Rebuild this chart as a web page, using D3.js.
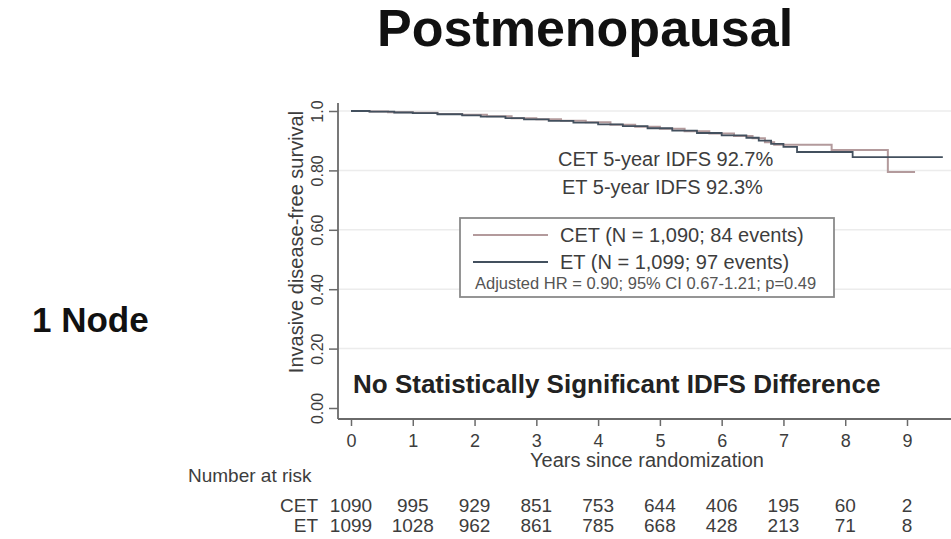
<!DOCTYPE html>
<html>
<head>
<meta charset="utf-8">
<script src="https://cdn.jsdelivr.net/npm/d3@7"></script>
<style>
  body { margin: 0; background: #ffffff; }
  svg { display: block; font-family: "Liberation Sans", Arial, sans-serif; }
</style>
</head>
<body>
<div id="vis"></div>
<script>
// data
const YEARS = [0, 1, 2, 3, 4, 5, 6, 7, 8, 9];
const Y_TICKS = [0, 0.2, 0.4, 0.6, 0.8, 1.0];
const Y_TICK_LABELS = ["0.00", "0.20", "0.40", "0.60", "0.80", "1.0"];

const RISK_CET = [1090, 995, 929, 851, 753, 644, 406, 195, 60, 2];
const RISK_ET = [1099, 1028, 962, 861, 785, 668, 428, 213, 71, 8];

// kaplan-meier step knots (years, survival)
const CET_TIME = [0, 0.3, 0.6, 1.0, 1.4, 1.8, 2.2, 2.6, 3.0, 3.4, 3.8, 4.2, 4.6, 5.0, 5.4, 5.8, 6.2, 6.5, 6.7, 6.85, 7.78, 8.69, 9.13];
const CET_SURV = [1.000, 0.998, 0.996, 0.994, 0.990, 0.987, 0.982, 0.976, 0.972, 0.967, 0.962, 0.954, 0.947, 0.940, 0.932, 0.924, 0.916, 0.908, 0.895, 0.886, 0.869, 0.795, 0.795];
const ET_TIME = [0, 0.3, 0.7, 1.0, 1.4, 1.8, 2.1, 2.5, 2.8, 3.2, 3.6, 4.0, 4.4, 4.8, 5.2, 5.6, 6.0, 6.4, 6.6, 6.8, 7.0, 7.22, 8.12, 9.58];
const ET_SURV = [1.000, 0.998, 0.995, 0.993, 0.989, 0.985, 0.981, 0.976, 0.972, 0.967, 0.961, 0.955, 0.949, 0.942, 0.934, 0.926, 0.918, 0.910, 0.900, 0.889, 0.879, 0.862, 0.845, 0.845];

const LEGEND_LABELS = ["CET (N = 1,090; 84 events)", "ET (N = 1,099; 97 events)"];
const HR_TEXT = "Adjusted HR = 0.90; 95% CI 0.67-1.21; p=0.49";
const IDFS_TEXT = ["CET 5-year IDFS 92.7%", "ET 5-year IDFS 92.3%"];

// frame constants
const FRAME_WIDTH = 951;
const FRAME_HEIGHT = 539;
const PLOT = {left: 338, right: 951, top: 103, bottom: 419};

const CET_COLOR = "#b39a9c";
const ET_COLOR = "#43505e";
const AXIS_COLOR = "#6a6a6a";
const TEXT_COLOR = "#3d3d3d";

const FRAME = d3.select("#vis")
                .append("svg")
                  .attr("width", FRAME_WIDTH)
                  .attr("height", FRAME_HEIGHT);

// scales
const X_SCALE = d3.scaleLinear()
                    .domain([0, 9])
                    .range([351, 907]);
const Y_SCALE = d3.scaleLinear()
                    .domain([0, 1])
                    .range([408, 111]);

// title and row label
FRAME.append("text")
      .attr("x", 377)
      .attr("y", 46)
      .attr("font-size", 52)
      .attr("font-weight", "bold")
      .attr("fill", "#111")
      .text("Postmenopausal");

FRAME.append("text")
      .attr("x", 32)
      .attr("y", 332)
      .attr("font-size", 35)
      .attr("font-weight", "bold")
      .attr("fill", "#111")
      .text("1 Node");

// faint gridlines
FRAME.append("g")
      .selectAll("line")
      .data(Y_TICKS.slice(1))
      .enter()
      .append("line")
        .attr("x1", PLOT.left)
        .attr("x2", PLOT.right)
        .attr("y1", (d) => { return Y_SCALE(d); })
        .attr("y2", (d) => { return Y_SCALE(d); })
        .attr("stroke", "#ececec")
        .attr("stroke-width", 1.5);

// x axis
const X_AXIS = FRAME.append("g")
      .attr("transform", "translate(0," + PLOT.bottom + ")")
      .call(d3.axisBottom(X_SCALE).tickValues(YEARS).tickSize(7).tickPadding(8).tickSizeOuter(0));
X_AXIS.select(".domain").remove();
X_AXIS.append("line")
      .attr("x1", PLOT.left)
      .attr("x2", PLOT.right)
      .attr("stroke", AXIS_COLOR)
      .attr("stroke-width", 1.8);
X_AXIS.selectAll(".tick line").attr("stroke", AXIS_COLOR).attr("stroke-width", 1.5);
X_AXIS.selectAll(".tick text")
      .attr("font-size", 18)
      .attr("fill", TEXT_COLOR);

// y axis
const Y_AXIS = FRAME.append("g")
      .attr("transform", "translate(" + PLOT.left + ",0)")
      .call(d3.axisLeft(Y_SCALE).tickValues(Y_TICKS).tickSize(9)
              .tickFormat((d, i) => { return Y_TICK_LABELS[i]; }));
Y_AXIS.select(".domain").remove();
Y_AXIS.append("line")
      .attr("y1", PLOT.top)
      .attr("y2", PLOT.bottom)
      .attr("stroke", AXIS_COLOR)
      .attr("stroke-width", 1.8);
Y_AXIS.selectAll(".tick line").attr("stroke", AXIS_COLOR).attr("stroke-width", 1.5);
Y_AXIS.selectAll(".tick text")
      .attr("x", 0)
      .attr("dy", 0)
      .attr("transform", "translate(-15,0) rotate(-90)")
      .attr("text-anchor", "middle")
      .attr("font-size", 16)
      .attr("fill", TEXT_COLOR);

// axis titles
FRAME.append("text")
      .attr("transform", "translate(303,242) rotate(-90)")
      .attr("text-anchor", "middle")
      .attr("font-size", 20)
      .attr("fill", TEXT_COLOR)
      .text("Invasive disease-free survival");

FRAME.append("text")
      .attr("x", 647)
      .attr("y", 467)
      .attr("text-anchor", "middle")
      .attr("font-size", 20)
      .attr("fill", TEXT_COLOR)
      .text("Years since randomization");

// survival curves
const STEP = d3.line()
                .x((d) => { return X_SCALE(d[0]); })
                .y((d) => { return Y_SCALE(d[1]); })
                .curve(d3.curveStepAfter);

FRAME.append("path")
      .datum(CET_TIME.map((t, i) => { return [t, CET_SURV[i]]; }))
      .attr("d", STEP)
      .attr("fill", "none")
      .attr("stroke", CET_COLOR)
      .attr("stroke-width", 2);

FRAME.append("path")
      .datum(ET_TIME.map((t, i) => { return [t, ET_SURV[i]]; }))
      .attr("d", STEP)
      .attr("fill", "none")
      .attr("stroke", ET_COLOR)
      .attr("stroke-width", 1.8);

// 5-year annotations
FRAME.append("g")
      .selectAll("text")
      .data(IDFS_TEXT)
      .enter()
      .append("text")
        .attr("x", (d, i) => { return i == 0 ? 558 : 562; })
        .attr("y", (d, i) => { return 166 + i * 28; })
        .attr("font-size", 20)
        .attr("fill", TEXT_COLOR)
        .text((d) => { return d; });

// legend box
const LEGEND = FRAME.append("g");
LEGEND.append("rect")
      .attr("x", 460)
      .attr("y", 218)
      .attr("width", 374)
      .attr("height", 79)
      .attr("fill", "#fff")
      .attr("stroke", "#8a8a8a")
      .attr("stroke-width", 1.8);

LEGEND.selectAll(".key")
      .data([CET_COLOR, ET_COLOR])
      .enter()
      .append("line")
        .attr("class", "key")
        .attr("x1", 473)
        .attr("x2", 548)
        .attr("y1", (d, i) => { return 235 + i * 27; })
        .attr("y2", (d, i) => { return 235 + i * 27; })
        .attr("stroke", (d) => { return d; })
        .attr("stroke-width", 2);

LEGEND.selectAll(".lab")
      .data(LEGEND_LABELS)
      .enter()
      .append("text")
        .attr("class", "lab")
        .attr("x", 560)
        .attr("y", (d, i) => { return 242 + i * 27; })
        .attr("font-size", 20)
        .attr("fill", TEXT_COLOR)
        .text((d) => { return d; });

LEGEND.append("text")
      .attr("x", 475)
      .attr("y", 289)
      .attr("font-size", 16.5)
      .attr("fill", "#555")
      .text(HR_TEXT);

// big note
FRAME.append("text")
      .attr("x", 353)
      .attr("y", 393)
      .attr("font-size", 26)
      .attr("font-weight", "bold")
      .attr("fill", "#222")
      .text("No Statistically Significant IDFS Difference");

// number at risk table
FRAME.append("text")
      .attr("x", 188)
      .attr("y", 482)
      .attr("font-size", 19)
      .attr("fill", TEXT_COLOR)
      .text("Number at risk");

const ROWS = [["CET", RISK_CET], ["ET", RISK_ET]];
ROWS.forEach((row, r) => {
    const ROW_Y = 512 + r * 20;
    FRAME.append("text")
          .attr("x", 318)
          .attr("y", ROW_Y)
          .attr("text-anchor", "end")
          .attr("font-size", 19)
          .attr("fill", TEXT_COLOR)
          .text(row[0]);
    FRAME.append("g")
          .selectAll("text")
          .data(row[1])
          .enter()
          .append("text")
            .attr("x", (d, i) => { return X_SCALE(YEARS[i]); })
            .attr("y", ROW_Y)
            .attr("text-anchor", "middle")
            .attr("font-size", 19)
            .attr("fill", TEXT_COLOR)
            .text((d) => { return d; });
});
</script>
</body>
</html>
